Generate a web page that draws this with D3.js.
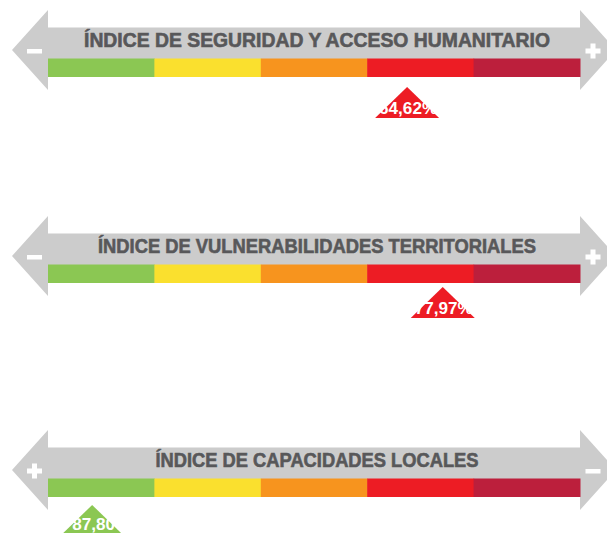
<!DOCTYPE html>
<html>
<head>
<meta charset="utf-8">
<script src="https://cdn.jsdelivr.net/npm/d3@7"></script>
<style>
  body { margin: 0; background: #fff; }
  svg { display: block; }
</style>
</head>
<body>
<div id="vis"></div>
<script>
const FRAME_WIDTH = 607;
const FRAME_HEIGHT = 533;

// data
const indexTitles = ["ÍNDICE DE SEGURIDAD Y ACCESO HUMANITARIO",
                     "ÍNDICE DE VULNERABILIDADES TERRITORIALES",
                     "ÍNDICE DE CAPACIDADES LOCALES"];
const indexValues = [64.62, 77.97, 87.80];
const valueLabels = ["64,62%", "77,97%", "87,80%"];
// where each marker sits along the band (% from the left end)
const markerPositions = [67.5, 74.2, 8.3];
const leftSigns = ["-", "-", "+"];
const rightSigns = ["+", "+", "-"];
const levels = ["muy bajo", "bajo", "medio", "alto", "muy alto"];
const levelColors = ["#8BC753", "#FAE02E", "#F7941E", "#ED1C24", "#BC1F3C"];

// layout
const PANEL_CENTERS = [50, 256, 470];
const TITLE_WIDTHS = [466, 438, 323];
const MARKER_GAPS = [37, 31, 35];   // arrow centre -> marker apex
const LABEL_SHIFT = [1, 1, 9];
const LABEL_DROP = [27, 27, 25];
const LABEL_WIDTH = 58;

const X_SCALE = d3.scaleLinear().domain([0, 100]).range([48, 580]);
const BAND = d3.scaleBand().domain(levels).range(X_SCALE.range());
const COLOR = d3.scaleOrdinal().domain(levels).range(levelColors);

const svg = d3.select("#vis")
  .append("svg")
    .attr("width", FRAME_WIDTH)
    .attr("height", FRAME_HEIGHT);

const x0 = X_SCALE.range()[0], x1 = X_SCALE.range()[1];
const HEAD = 36;

function sign(g, s, cx, cy) {
  if (s === "+") {
    g.append("rect").attr("x", cx - 7.5).attr("y", cy - 2.5)
      .attr("width", 15).attr("height", 5).attr("fill", "#fff");
    g.append("rect").attr("x", cx - 2.5).attr("y", cy - 7.5)
      .attr("width", 5).attr("height", 15).attr("fill", "#fff");
  } else {
    g.append("rect").attr("x", cx - 7.5).attr("y", cy - 2)
      .attr("width", 15).attr("height", 4.5).attr("fill", "#fff");
  }
}

indexTitles.forEach((title, i) => {
  const c = PANEL_CENTERS[i];
  const g = svg.append("g");

  // double arrow
  const pts = [
    [x0 - HEAD, c], [x0, c - 40], [x0, c - 22.5], [x1, c - 22.5], [x1, c - 40],
    [x1 + HEAD, c], [x1, c + 40], [x1, c + 27], [x0, c + 27], [x0, c + 40]
  ];
  g.append("polygon")
    .attr("points", pts.map(p => p.join(",")).join(" "))
    .attr("fill", "#CCCCCC");

  sign(g, leftSigns[i], 34.5, c + 1);
  sign(g, rightSigns[i], 593, c + 1);

  // colour band
  g.selectAll("rect.level")
    .data(levels)
    .enter()
    .append("rect")
      .attr("class", "level")
      .attr("x", d => BAND(d))
      .attr("y", c + 8.5)
      .attr("width", BAND.bandwidth() + 0.5)
      .attr("height", 18.5)
      .attr("fill", d => COLOR(d));

  // title
  g.append("text")
    .attr("x", (x0 + x1) / 2 + 3)
    .attr("y", c - 3)
    .attr("text-anchor", "middle")
    .attr("font-family", "Liberation Sans, Arial, sans-serif")
    .attr("font-weight", "bold")
    .attr("font-size", "19.5px")
    .attr("fill", "#58585A")
    .attr("stroke", "#58585A")
    .attr("stroke-width", 0.6)
    .attr("textLength", TITLE_WIDTHS[i])
    .attr("lengthAdjust", "spacingAndGlyphs")
    .text(title);

  // marker
  const mx = X_SCALE(markerPositions[i]);
  const top = c + MARKER_GAPS[i];
  g.append("polygon")
    .attr("points", [[mx, top], [mx + 32, top + 31], [mx - 32, top + 31]]
      .map(p => p.join(",")).join(" "))
    .attr("fill", COLOR(levels[Math.min(4, Math.floor(markerPositions[i] / 20))]));

  g.append("text")
    .attr("x", mx + LABEL_SHIFT[i])
    .attr("y", top + LABEL_DROP[i])
    .attr("text-anchor", "middle")
    .attr("font-family", "Liberation Sans, Arial, sans-serif")
    .attr("font-weight", "bold")
    .attr("font-size", "16px")
    .attr("fill", "#fff")
    .attr("textLength", LABEL_WIDTH)
    .attr("lengthAdjust", "spacingAndGlyphs")
    .text(valueLabels[i]);
});
</script>
</body>
</html>
